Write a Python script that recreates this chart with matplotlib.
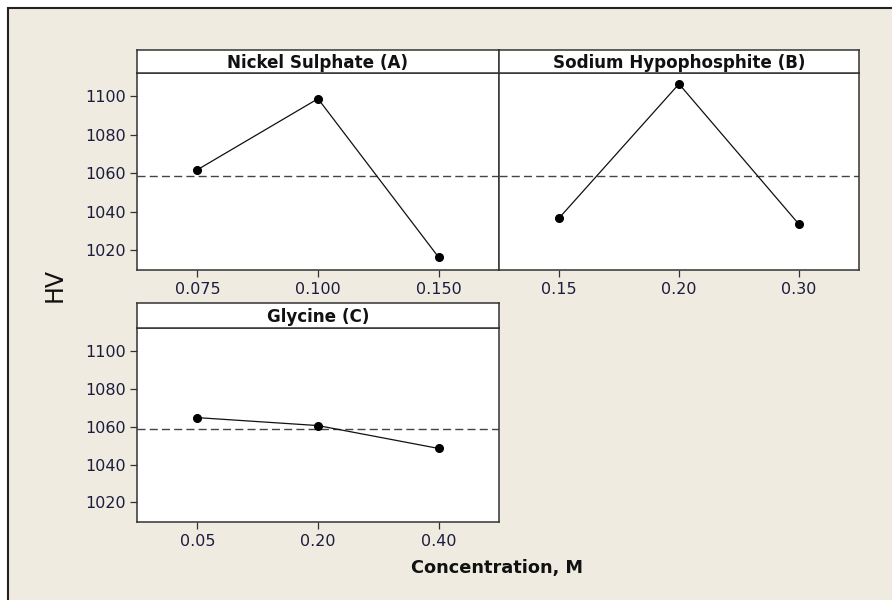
import numpy as np
import matplotlib.pyplot as plt
from matplotlib.patches import Rectangle

# Main effects plot for HV
factors = ['Nickel Sulphate (A)', 'Sodium Hypophosphite (B)', 'Glycine (C)']
levels_a = ['0.075', '0.100', '0.150']
levels_b = ['0.15', '0.20', '0.30']
levels_c = ['0.05', '0.20', '0.40']
hv_a = [1061.8, 1098.8, 1016.2]
hv_b = [1036.6, 1106.5, 1033.4]
hv_c = [1064.8, 1060.6, 1048.5]
yticks = [1020, 1040, 1060, 1080, 1100]

grand_mean = np.mean(hv_a + hv_b + hv_c)

W, H = 892, 600
bg = '#efebe1'
tick_col = '#1c1c3c'
spine_col = '#333333'

fig = plt.figure(figsize=(W / 100, H / 100), dpi=100)
fig.patch.set_facecolor('white')

# outer frame of the graph window
frame = Rectangle((8 / W, -0.1), 1.2, 1 - 8 / H + 0.1, transform=fig.transFigure,
                  facecolor=bg, edgecolor='#222222', linewidth=1.5, zorder=-5)
fig.patches.append(frame)


def px_axes(left, top, right, bottom):
    return fig.add_axes([left / W, 1 - bottom / H, (right - left) / W, (bottom - top) / H])


panels = [
    (factors[0], levels_a, hv_a, (137, 50, 499, 73, 270), True),
    (factors[1], levels_b, hv_b, (499, 50, 859, 73, 270), False),
    (factors[2], levels_c, hv_c, (137, 303, 499, 328, 522), True),
]

for title, levels, vals, (l, t, r, hb, b), show_y in panels:
    ax = px_axes(l, hb, r, b)
    x = np.arange(1, len(levels) + 1)
    ax.axhline(grand_mean, color='#444444', lw=1, linestyle=(0, (5.8, 3)), zorder=1)
    ax.plot(x, vals, color='#111111', lw=0.9, marker='o', markersize=5.5,
            markerfacecolor='black', markeredgecolor='black', zorder=3)
    ax.set_xlim(0.5, 3.5)
    ax.set_ylim(1009.6, 1112.2)
    ax.set_xticks(x)
    ax.set_xticklabels(levels)
    ax.set_facecolor('white')
    for s in ax.spines.values():
        s.set_color(spine_col)
        s.set_linewidth(1.1)
    ax.tick_params(axis='x', direction='out', length=5, width=0.9, color=spine_col,
                   labelsize=11.5, labelcolor=tick_col, pad=4)
    if show_y:
        ax.set_yticks(yticks)
        ax.tick_params(axis='y', direction='out', length=5, width=0.9, color=spine_col,
                       labelsize=11.5, labelcolor=tick_col, pad=3)
    else:
        ax.set_yticks([])

    hax = px_axes(l, t, r, hb)
    hax.set_xticks([])
    hax.set_yticks([])
    hax.set_facecolor('white')
    for s in hax.spines.values():
        s.set_color(spine_col)
        s.set_linewidth(1.1)
    hax.text(0.5, 0.45, title, ha='center', va='center', fontsize=12.1,
             fontweight='bold', color='#111111', transform=hax.transAxes)

fig.text(55 / W, 1 - 285 / H, 'HV', rotation=90, ha='center', va='center',
         fontsize=17, color='#111111')
fig.text(497 / W, 1 - 568 / H, 'Concentration, M', ha='center', va='center',
         fontsize=12.8, fontweight='bold', color='#111111')

fig.savefig('out.png', dpi=100, facecolor=fig.get_facecolor())
